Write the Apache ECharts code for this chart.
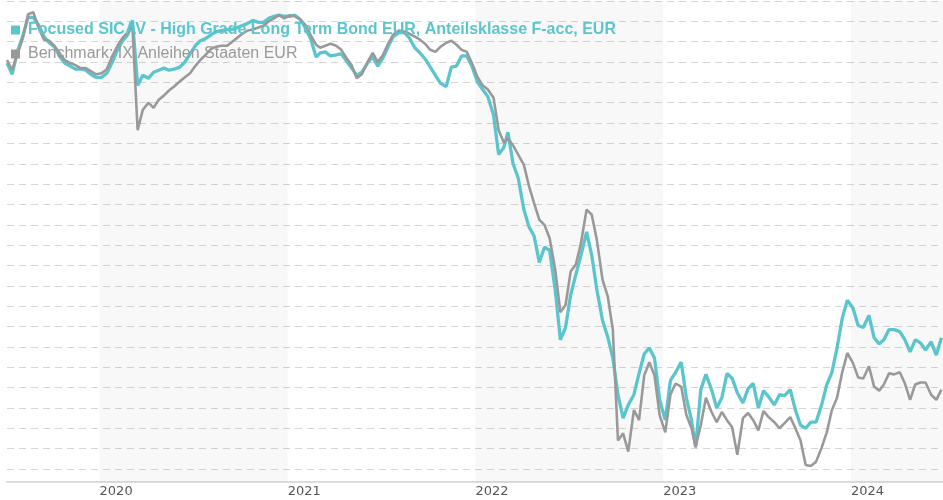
<!DOCTYPE html>
<html>
<head>
<meta charset="utf-8">
<script src="https://cdn.jsdelivr.net/npm/echarts@6/dist/echarts.min.js"></script>
<style>
html, body { margin: 0; padding: 0; background: #fff; }
#chart { width: 943px; height: 500px; }
</style>
</head>
<body>
<div id="chart"></div>
<script>
const fundName = 'Focused SICAV - High Grade Long Term Bond EUR, Anteilsklasse F-acc, EUR'
const benchName = 'Benchmark: IX Anleihen Staaten EUR'

// sample days: 5th, 15th and 25th of each month, Jul 2019 - Jun 2024
const sampleDays = ['05', '15', '25']
const dates = []
for (let i = 0; i < 60; i++) {
  const y = 2019 + Math.floor((6 + i) / 12)
  const m = String((6 + i) % 12 + 1).padStart(2, '0')
  sampleDays.forEach(d => dates.push(y + '-' + m + '-' + d))
}

// indexed price
const fund = [
  95.9, 94.8, 97.0, 98.6, 100.4, 100.4, 99.6, 98.5, 97.9, 97.5, 96.6, 95.9,
  95.6, 95.3, 95.3, 95.2, 94.8, 94.5,
  94.5, 94.9, 95.9, 97.2, 98.1, 98.7, 100.1, 93.7, 94.7, 94.4, 95.0, 95.2,
  95.4, 95.2, 95.3, 95.5, 96.0, 96.8, 97.6, 98.1, 98.3, 98.7, 99.0, 99.1,
  99.2, 99.2, 99.4, 99.6, 99.8, 100.1, 99.9, 99.9, 100.3, 100.5, 100.6, 100.5,
  100.5, 100.6, 100.2, 99.3, 98.2, 96.5, 96.9, 97.0, 96.6, 96.7, 96.8, 96.1,
  95.4, 94.7, 95.0, 95.9, 96.5, 95.6, 96.4, 97.5, 98.5, 98.9, 98.9, 98.4,
  97.4, 96.9, 96.3, 95.5, 94.7, 93.9, 93.6, 95.5, 95.6, 96.6, 96.6, 95.6,
  94.0, 93.3, 92.6, 90.8, 86.9, 87.6, 89.1, 86.0, 84.6, 81.5, 79.8, 78.9,
  76.3, 77.8, 77.5, 73.6, 68.7, 69.9, 73.1, 75.1, 77.0, 79.3, 77.0, 73.6,
  70.6, 69.0, 66.9, 63.3, 61.0, 62.3, 63.3, 65.4, 67.3, 67.9, 66.9, 62.8,
  60.8, 64.7, 65.5, 66.5, 63.0, 60.8, 58.1, 63.8, 65.3, 63.8, 62.0, 63.0,
  65.4, 64.9, 63.5, 62.5, 63.9, 64.4, 62.0, 63.7, 63.1, 62.3, 63.3, 63.2,
  63.8, 61.8, 60.3, 60.0, 60.6, 60.6, 62.3, 64.3, 65.5, 67.9, 70.8, 72.6,
  71.8, 70.1, 69.9, 71.1, 68.9, 68.3, 68.7, 69.7, 69.7, 69.5, 68.7, 67.5,
  68.7, 68.4, 67.7, 68.5, 67.2, 68.9
]
const bench = [
  96.2, 95.2, 96.7, 98.4, 100.7, 100.9, 99.3, 98.2, 98.1, 97.6, 96.9, 96.2,
  95.9, 95.7, 95.4, 95.4, 95.1, 94.8,
  94.9, 95.3, 96.5, 97.6, 98.4, 98.9, 99.4, 89.3, 91.3, 92.0, 91.5, 92.3,
  92.7, 93.2, 93.6, 94.1, 94.5, 94.9, 95.6, 96.2, 96.7, 97.3, 97.5, 97.6,
  97.6, 98.0, 98.4, 98.8, 99.1, 99.2, 99.4, 99.6, 100.0, 100.3, 100.6, 100.3,
  100.6, 100.5, 100.2, 99.6, 98.6, 97.7, 97.4, 97.6, 97.8, 97.6, 97.2, 96.4,
  95.7, 94.4, 94.8, 96.0, 96.9, 96.0, 96.7, 97.8, 98.7, 99.1, 99.0, 98.8,
  98.5, 98.2, 97.8, 97.2, 97.0, 97.5, 97.9, 98.1, 97.7, 97.2, 97.0, 95.9,
  94.5, 93.7, 93.3, 92.5, 89.3, 88.1, 88.5, 87.8, 86.9, 85.9, 83.8, 82.1,
  80.5, 80.0, 78.7, 75.6, 71.4, 72.1, 75.4, 76.1, 78.2, 81.5, 81.0, 78.5,
  74.6, 73.0, 69.7, 58.8, 59.5, 57.7, 61.8, 60.8, 65.2, 66.5, 65.2, 61.3,
  59.6, 63.3, 64.4, 64.1, 61.3, 60.0, 58.2, 60.3, 63.0, 61.6, 60.6, 61.6,
  60.8, 60.1, 57.4, 61.0, 61.5, 60.8, 59.8, 61.7, 61.1, 60.6, 60.0, 60.5,
  61.1, 60.0, 58.8, 56.4, 56.3, 56.7, 58.1, 59.6, 61.8, 63.0, 65.5, 67.4,
  66.4, 65.0, 64.9, 66.1, 64.1, 63.7, 64.3, 65.4, 65.3, 65.5, 64.4, 62.8,
  64.3, 64.5, 64.5, 63.3, 62.8, 63.8
]

// shaded years
const bands = [
  ['2020-01-01', '2021-01-01'],
  ['2022-01-01', '2023-01-01'],
  ['2024-01-01', '2024-06-28']
]

const teal = '#5bc5cd'
const grey = '#999999'

const chart = echarts.init(document.getElementById('chart'))
chart.setOption({
  animation: false,
  grid: {left: 7, right: 0, top: 1, bottom: 18},
  legend: {
    left: 11,
    top: 22,
    padding: 0,
    orient: 'vertical',
    icon: 'rect',
    itemWidth: 9,
    itemHeight: 9,
    itemGap: 8,
    textStyle: {fontSize: 16, fontFamily: 'Liberation Sans, Arial', lineHeight: 16, padding: [0, 0, 0, 3]},
    data: [
      {name: fundName, textStyle: {color: teal, fontWeight: 'bold'}},
      {name: benchName, textStyle: {color: grey}}
    ]
  },
  xAxis: {
    type: 'time',
    min: '2019-07-05',
    max: '2024-06-28',
    minInterval: 365 * 24 * 3600 * 1000,
    maxInterval: 366 * 24 * 3600 * 1000,
    axisLine: {lineStyle: {color: '#dcdcdc', width: 2}},
    axisTick: {show: false},
    splitLine: {show: false},
    axisLabel: {
      align: 'left',
      margin: 3,
      color: '#555',
      fontSize: 13,
      fontFamily: 'DejaVu Sans',
      formatter: function (v) {
        const d = new Date(v)
        return (d.getMonth() === 0 && d.getDate() === 1) ? String(d.getFullYear()) : ''
      }
    }
  },
  yAxis: {
    type: 'value',
    min: 54.72,
    max: 102,
    splitNumber: 24,
    minInterval: 2,
    maxInterval: 2,
    axisLine: {show: false},
    axisTick: {show: false},
    axisLabel: {show: false},
    splitLine: {lineStyle: {color: '#d6d6d6', type: [7, 5], width: 1}}
  },
  series: [
    {
      name: fundName,
      type: 'line',
      symbol: 'none',
      color: teal,
      lineStyle: {color: teal, width: 3.3},
      emphasis: {disabled: true},
      data: dates.map((d, i) => [d, fund[i]]),
      markArea: {
        silent: true,
        itemStyle: {color: 'rgba(0,0,0,0.028)'},
        data: bands.map(b => [{xAxis: b[0]}, {xAxis: b[1]}])
      }
    },
    {
      name: benchName,
      type: 'line',
      symbol: 'none',
      color: grey,
      lineStyle: {color: grey, width: 2.6},
      emphasis: {disabled: true},
      data: dates.map((d, i) => [d, bench[i]])
    }
  ]
})
</script>
</body>
</html>
